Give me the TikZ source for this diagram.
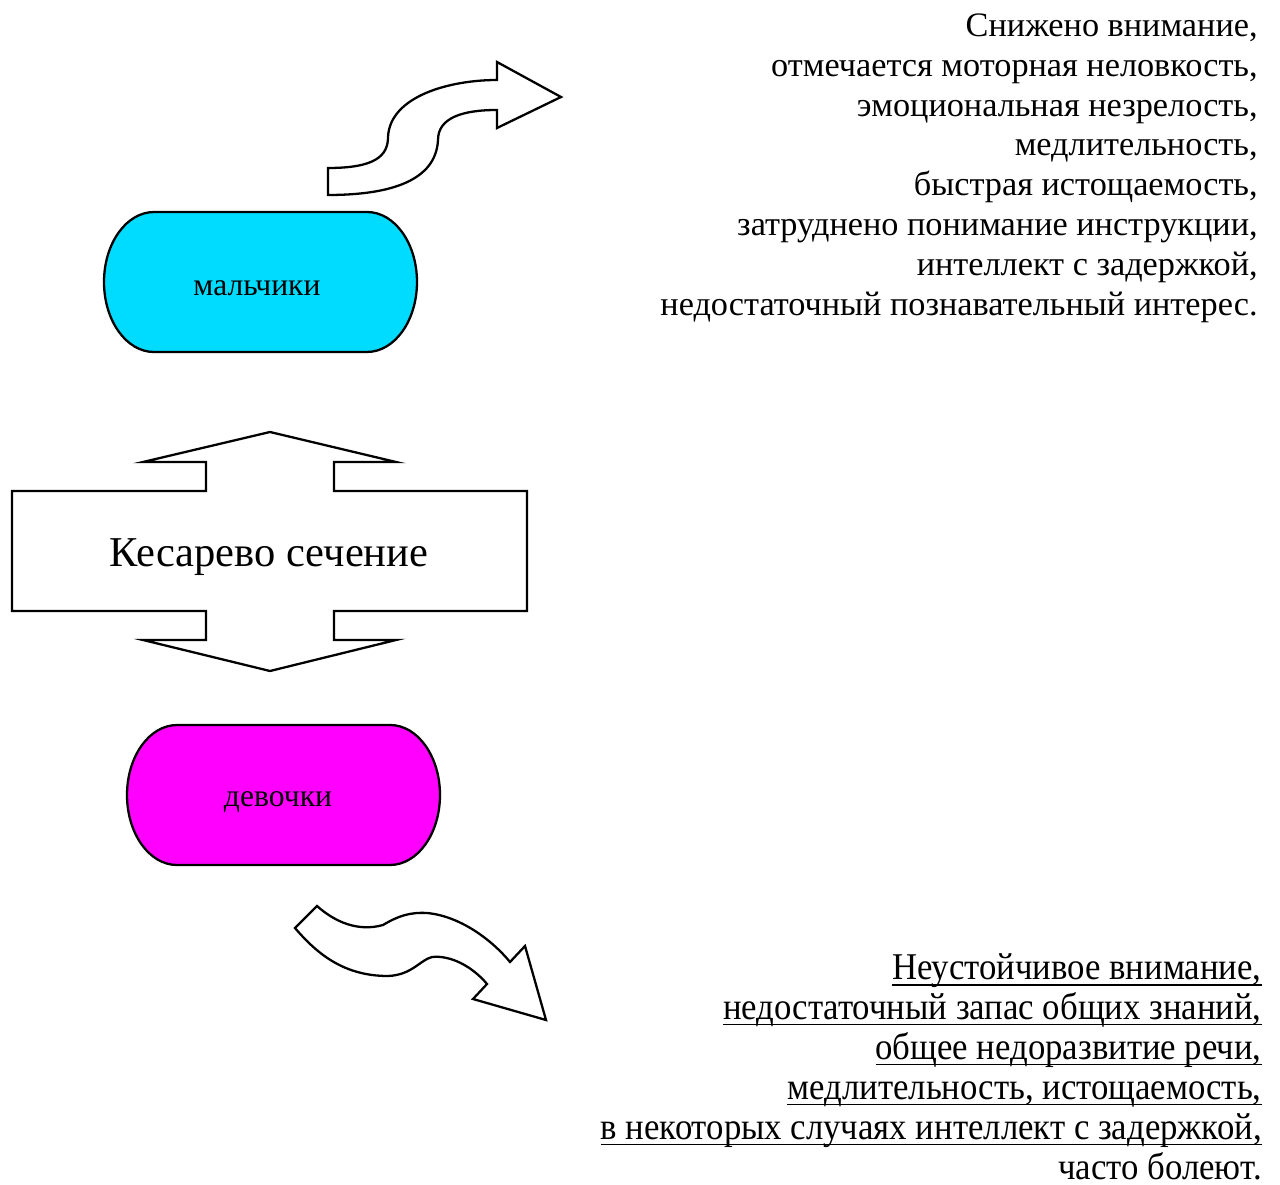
\documentclass[tikz,border=0pt]{standalone}
\usepackage{fontspec}
\setmainfont{Liberation Serif}
\newfontfamily\narrowserif[FakeStretch=0.92]{Liberation Serif}

\definecolor{boyblue}{HTML}{00DCFF}
\definecolor{girlpink}{HTML}{FF00FF}

% underline set a little lower and heavier than \underline
\newcommand{\lineunder}[1]{\setbox0=\hbox{#1}\rlap{\rule[-3.6pt]{\wd0}{1.1pt}}\box0}

\begin{document}
\begin{tikzpicture}[x = 0.02cm, y = -0.02cm,
	outline/.style = {draw = black, line width = 1.3pt, line join = miter},
	plain text/.style = {inner sep = 0pt, font = \fontsize{18}{22}\selectfont},
	side list/.style = {inner sep = 0pt, align = right}]

	\useasboundingbox (0,0) rectangle (1280,1185);

	% boys
	\draw[outline, fill = boyblue] (154,212) -- (367,212)
			arc[start angle = 90, end angle = -90, x radius = 1cm, y radius = 1.4cm]
			-- (154,352)
			arc[start angle = 270, end angle = 90, x radius = 1cm, y radius = 1.4cm]
			-- cycle;
	\draw (257,288) node[plain text] (boys) {мальчики};

	% girls
	\draw[outline, fill = girlpink] (177,725) -- (390,725)
			arc[start angle = 90, end angle = -90, x radius = 1cm, y radius = 1.4cm]
			-- (177,865)
			arc[start angle = 270, end angle = 90, x radius = 1cm, y radius = 1.4cm]
			-- cycle;
	\draw (278,802) node[plain text] (girls) {девочки};

	% double arrow
	\draw[outline] (270,432) -- (396,462) -- (334,462) -- (334,491)
			-- (527,491) -- (527,611) -- (334,611) -- (334,640)
			-- (396,640) -- (270,671) -- (143,640) -- (206,640)
			-- (206,611) -- (12,611) -- (12,491) -- (206,491)
			-- (206,462) -- (143,462) -- cycle;
	\draw (269,557) node[inner sep = 0pt,
					 font = \fontsize{24.2}{28}\selectfont] (birth) {Кесарево сечение};

	% curved arrow up
	\draw[outline] (328,168) .. controls (375,168) and (388,156) .. (388,137)
			.. controls (390,96) and (450,80) .. (497,80)
			-- (497,62) -- (561,97) -- (497,128) -- (497,110)
			.. controls (462,110) and (438,118) .. (438,140)
			.. controls (436,180) and (392,195) .. (328,195)
			-- cycle;

	% curved arrow down
	\draw[outline] (317,906) .. controls (335,922) and (358,932) .. (383,925)
			.. controls (398,916) and (410,912) .. (427,913)
			.. controls (460,916) and (492,940) .. (510,962)
			-- (525,946) -- (546,1020) -- (473,999) -- (487,984)
			.. controls (472,966) and (450,955) .. (432,957)
			.. controls (420,960) and (412,975) .. (388,976)
			.. controls (345,976) and (318,955) .. (295,928)
			-- cycle;

	% boys list
	\draw (1258,13) node[side list,
					 anchor = north east,
					 font = \fontsize{19.5}{22.76}\selectfont] (boyslist)
			{Снижено внимание,\\
			 отмечается моторная неловкость,\\
			 эмоциональная незрелость,\\
			 медлительность,\\
			 быстрая истощаемость,\\
			 затруднено понимание инструкции,\\
			 интеллект с задержкой,\\
			 недостаточный познавательный интерес.};

	% girls list
	\draw (1262,1180) node[side list,
					 anchor = south east,
					 font = \narrowserif\fontsize{21.5}{22.76}\selectfont] (girlslist)
			{\lineunder{Неустойчивое внимание,}\\
			 \lineunder{недостаточный запас общих знаний,}\\
			 \lineunder{общее недоразвитие речи,}\\
			 \lineunder{медлительность, истощаемость,}\\
			 \lineunder{в некоторых случаях интеллект с задержкой,}\\
			 часто болеют.};
\end{tikzpicture}
\end{document}
